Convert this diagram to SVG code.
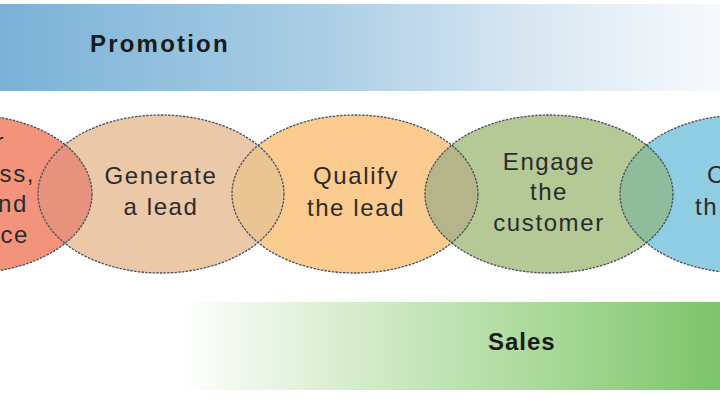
<svg xmlns="http://www.w3.org/2000/svg" width="720" height="405" viewBox="0 0 720 405">
<style>
.lbl{font-family:"Liberation Sans",Arial,sans-serif;font-size:24px;fill:#2b2b2b;letter-spacing:1.6px}
.bar{font-family:"Liberation Sans",Arial,sans-serif;font-size:24px;font-weight:bold;fill:#1a1a1a;letter-spacing:1.5px}
.ol{fill:none;stroke:#44505c;stroke-width:1.3;stroke-dasharray:2.5 1.2}
</style>
<defs>
<linearGradient id="gPromo" x1="0" y1="0" x2="1" y2="0">
<stop offset="0" stop-color="#7ab2d6"/>
<stop offset="0.45" stop-color="#abcee5"/>
<stop offset="0.75" stop-color="#dae8f2"/>
<stop offset="1" stop-color="#f7fafd"/>
</linearGradient>
<linearGradient id="gSales" x1="0" y1="0" x2="1" y2="0">
<stop offset="0" stop-color="#ffffff"/>
<stop offset="0.3" stop-color="#d8edcf"/>
<stop offset="0.7" stop-color="#a6d895"/>
<stop offset="1" stop-color="#7cc46a"/>
</linearGradient>
<clipPath id="cRed"><ellipse cx="-31" cy="194" rx="123" ry="79"/></clipPath>
<clipPath id="cGen"><ellipse cx="161" cy="194" rx="123" ry="79"/></clipPath>
<clipPath id="cQual"><ellipse cx="355" cy="194" rx="123" ry="79"/></clipPath>
<clipPath id="cEng"><ellipse cx="549" cy="194" rx="124" ry="79"/></clipPath>
</defs>
<rect width="720" height="405" fill="#ffffff"/>
<g id="promotion">
<rect x="0" y="4" width="720" height="87" fill="url(#gPromo)"/>
<text class="bar" x="90" y="52" style="letter-spacing:2.2px">Promotion</text>
</g>
<g id="sales">
<rect x="180" y="302" width="540" height="88" fill="url(#gSales)"/>
<text class="bar" x="488" y="350" style="letter-spacing:1px">Sales</text>
</g>
<g id="node-red">
<ellipse cx="-31" cy="194" rx="123" ry="79" fill="#f4937b"/>
</g>
<g id="node-generate">
<ellipse cx="161" cy="194" rx="123" ry="79" fill="#ebc8a8"/>
</g>
<g id="node-qualify">
<ellipse cx="355" cy="194" rx="123" ry="79" fill="#fccb8f"/>
</g>
<g id="node-engage">
<ellipse cx="549" cy="194" rx="124" ry="79" fill="#b4c996"/>
</g>
<g id="node-close">
<ellipse cx="743" cy="194" rx="123" ry="79" fill="#8fcde3"/>
</g>
<g id="overlaps">
<ellipse cx="161" cy="194" rx="123" ry="79" fill="#e6927c" clip-path="url(#cRed)"/>
<ellipse cx="355" cy="194" rx="123" ry="79" fill="#e8c593" clip-path="url(#cGen)"/>
<ellipse cx="549" cy="194" rx="124" ry="79" fill="#b6b489" clip-path="url(#cQual)"/>
<ellipse cx="743" cy="194" rx="123" ry="79" fill="#8fbd9b" clip-path="url(#cEng)"/>
</g>
<g id="outlines">
<ellipse class="ol" cx="-31" cy="194" rx="123" ry="79"/>
<ellipse class="ol" cx="161" cy="194" rx="123" ry="79"/>
<ellipse class="ol" cx="355" cy="194" rx="123" ry="79"/>
<ellipse class="ol" cx="549" cy="194" rx="124" ry="79"/>
<ellipse class="ol" cx="743" cy="194" rx="123" ry="79"/>
</g>
<g id="labels">
<text class="lbl" x="5" y="150" text-anchor="end">r</text>
<text class="lbl" x="35" y="182" text-anchor="end">ss,</text>
<text class="lbl" x="28" y="212" text-anchor="end">nd</text>
<text class="lbl" x="29" y="243" text-anchor="end">ce</text>
<text class="lbl" x="161" y="184" text-anchor="middle">Generate</text>
<text class="lbl" x="161" y="215" text-anchor="middle">a lead</text>
<text class="lbl" x="356" y="184" text-anchor="middle">Qualify</text>
<text class="lbl" x="356" y="216" text-anchor="middle">the lead</text>
<text class="lbl" x="549" y="170" text-anchor="middle">Engage</text>
<text class="lbl" x="549" y="200" text-anchor="middle">the</text>
<text class="lbl" x="549" y="231" text-anchor="middle">customer</text>
<text class="lbl" x="707" y="183">C</text>
<text class="lbl" x="695" y="215">th</text>
</g>
<g id="connectors"/>
</svg>
